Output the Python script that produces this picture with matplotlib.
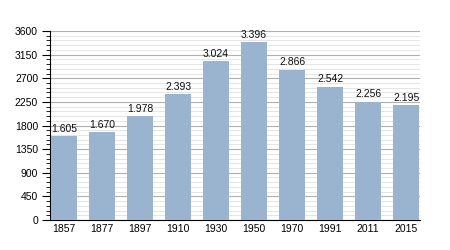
import matplotlib
matplotlib.use("Agg")
import matplotlib.pyplot as plt
from matplotlib.ticker import MultipleLocator

years = ["1857", "1877", "1897", "1910", "1930", "1950", "1970", "1991", "2011", "2015"]
population = [1605, 1670, 1978, 2393, 3024, 3396, 2866, 2542, 2256, 2195]
labels = ["1.605", "1.670", "1.978", "2.393", "3.024", "3.396", "2.866", "2.542", "2.256", "2.195"]

plt.rcParams['font.family'] = ['Liberation Sans', 'DejaVu Sans']
fig = plt.figure(figsize=(4.5, 2.5), dpi=100)
ax = fig.add_axes([0.111, 0.12, 0.822, 0.756])

x = list(range(len(years)))
bars = ax.bar(x, population, width=0.68, color="#9ab4cf", zorder=3)
for xi, v, lab in zip(x, population, labels):
    ax.text(xi, v + 40, lab, ha="center", va="bottom", fontsize=7.5, color="#111111", zorder=4)

ax.set_xlim(-0.37, 9.36)
ax.set_ylim(0, 3600)
ax.yaxis.set_major_locator(MultipleLocator(450))
ax.yaxis.set_minor_locator(MultipleLocator(90))
ax.set_xticks(x)
ax.set_xticklabels(years)
ax.grid(axis="y", which="major", color="#b0b0b0", linewidth=0.8, zorder=0)
ax.grid(axis="y", which="minor", color="#e0e0e0", linewidth=0.6, zorder=0)
for s in ["top", "right"]:
    ax.spines[s].set_visible(False)
ax.spines["left"].set_linewidth(0.8)
ax.spines["bottom"].set_linewidth(0.8)
ax.tick_params(axis="y", which="major", length=5.5, width=0.8, labelsize=7.5, pad=3)
ax.tick_params(axis="y", which="minor", length=3, width=0.6)
ax.tick_params(axis="x", length=0, labelsize=7.5, pad=3)

fig.savefig("out.png", dpi=100)
